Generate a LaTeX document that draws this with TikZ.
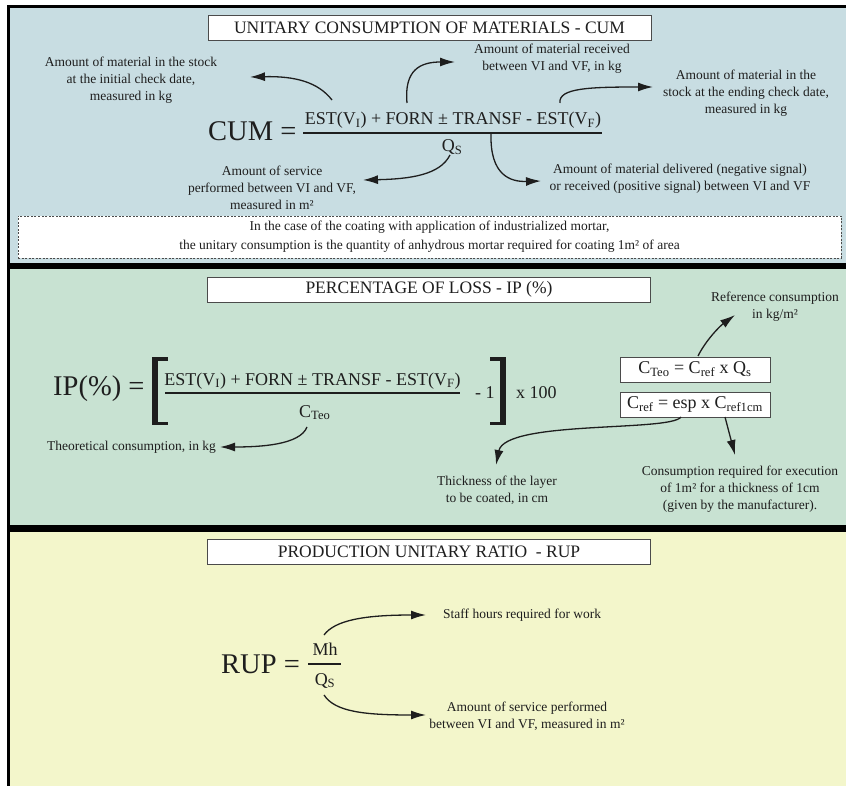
\documentclass[tikz,border=0pt]{standalone}
\usepackage{fontspec}
\setmainfont{Liberation Serif}
\usetikzlibrary{arrows.meta}
\definecolor{pA}{RGB}{200,221,226}
\definecolor{pB}{RGB}{200,226,210}
\definecolor{pC}{RGB}{243,246,203}
\definecolor{ink}{RGB}{30,30,30}
\newcommand\sbs[1]{\textsubscript{#1}}
\begin{document}
\begin{tikzpicture}[x=1pt,y=-1pt,
  lbl/.style={text=ink,font=\fontsize{13.5}{17}\selectfont,align=center,inner sep=0pt},
  ttl/.style={draw=ink!80,fill=white,line width=0.8pt,minimum width=443pt,minimum height=25pt,inner sep=0pt,font=\fontsize{17.5}{20}\selectfont,text=ink},
  frm/.style={text=ink,font=\fontsize{18}{20}\selectfont,inner sep=0pt},
  big/.style={text=ink,font=\fontsize{28.5}{30}\selectfont,inner sep=0pt},
  fbox/.style={draw=ink!80,fill=white,line width=0.8pt,minimum width=150pt,minimum height=25pt,inner sep=0pt,text=ink,font=\fontsize{18}{20}\selectfont},
  arr/.style={draw=ink,line width=1.3pt,-{Latex[length=15pt,width=9pt]}},
  fline/.style={draw=ink,line width=1.4pt},
]
\useasboundingbox (0,0) rectangle (846,786);
\fill[white] (0,0) rectangle (846,786);
\fill[pA] (10,8) rectangle (846,263);
\fill[pB] (10,269) rectangle (846,525);
\fill[pC] (10,532) rectangle (846,786);
\fill[black] (7,5) rectangle (846,8);
\fill[black] (7,5) rectangle (10,786);
\fill[black] (10,263) rectangle (846,269);
\fill[black] (10,525) rectangle (846,532);

% ---------- Panel 1 ----------
\node[ttl] (t1) at (429.5,27.5) {UNITARY CONSUMPTION OF MATERIALS - CUM};
\node[big,anchor=base west] (cum) at (208,141) {CUM =};
\node[frm,anchor=base] (num1) at (453,125) {EST(V\sbs{I}) + FORN ± TRANSF - EST(V\sbs{F})};
\coordinate (f1a) at (303,133);
\coordinate (f1b) at (602,133);
\draw[fline] (f1a) -- (f1b);
\node[frm,anchor=base] (den1) at (452,152) {Q\sbs{S}};

\node[lbl] (l1) at (131,80) {Amount of material in the stock\\at the initial check date,\\measured in kg};
\node[lbl] (l2) at (552,59) {Amount of material received\\between VI and VF, in kg};
\node[lbl] (l3) at (746,93) {Amount of material in the\\stock at the ending check date,\\measured in kg};
\node[lbl] (l4) at (272,188) {Amount of service\\performed between VI and VF,\\measured in m²};
\node[lbl] (l5) at (680,178.5) {Amount of material delivered (negative signal)\\or received (positive signal) between VI and VF};

\coordinate (a1s) at (332,100); \coordinate (a1e) at (250,77);
\coordinate (a2s) at (407,103); \coordinate (a2e) at (455,62);
\coordinate (a3s) at (560,103); \coordinate (a3e) at (653,87);
\coordinate (a4s) at (450,155); \coordinate (a4e) at (363,180);
\coordinate (a5s) at (491,134); \coordinate (a5e) at (541,181);
\draw[arr] (a1s) .. controls (318,82) and (295,76) .. (a1e);
\draw[arr] (a2s) .. controls (404,70) and (420,62) .. (a2e);
\draw[arr] (a3s) .. controls (558,88) and (590,87) .. (a3e);
\draw[arr] (a4s) .. controls (440,175) and (410,179) .. (a4e);
\draw[arr] (a5s) .. controls (490,175) and (510,182) .. (a5e);

\node[draw=ink!80,dashed,dash pattern=on 2pt off 1.5pt,line width=0.6pt,fill=white,minimum width=823pt,minimum height=42pt,inner sep=0pt,text=ink,align=center,font=\fontsize{13.5}{19}\selectfont] (note) at (429.5,237)
  {In the case of the coating with application of industrialized mortar,\\the unitary consumption is the quantity of anhydrous mortar required for coating 1m² of area};

% ---------- Panel 2 ----------
\node[ttl] (t2) at (429,289.5) {PERCENTAGE OF LOSS - IP (\%)};
\node[big,anchor=base west] (ip) at (53,395) {IP(\%) =};
\fill[ink] (152,357) rectangle (158,425);
\fill[ink] (152,357) rectangle (168,360.5);
\fill[ink] (152,421.5) rectangle (168,425);
\fill[ink] (500,357) rectangle (506,425);
\fill[ink] (490,357) rectangle (506,360.5);
\fill[ink] (490,421.5) rectangle (506,425);
\node[frm,anchor=base] (num2) at (312.5,385) {EST(V\sbs{I}) + FORN ± TRANSF - EST(V\sbs{F})};
\coordinate (f2a) at (165,393);
\coordinate (f2b) at (460,393);
\draw[fline] (f2a) -- (f2b);
\node[frm,anchor=base west] (ct) at (299,417) {C\sbs{Teo}};
\node[frm,anchor=base west] (m1) at (475,398) {- 1};
\node[frm,anchor=base west] (x100) at (516,398) {x 100};
\node[lbl,anchor=west] (l6) at (47,447) {Theoretical consumption, in kg};

\node[fbox] (b1) at (695,369.5) {C\sbs{Teo} = C\sbs{ref} x Q\sbs{s}};
\node[fbox] (b2) at (695,404.5) {C\sbs{ref} = esp x C\sbs{ref1cm}};
\node[lbl] (l7) at (775,306.5) {Reference consumption\\in kg/m²};
\node[lbl] (l8) at (497,490) {Thickness of the layer\\to be coated, in cm};
\node[lbl] (l9) at (740,489) {Consumption required for execution\\of 1m² for a thickness of 1cm\\(given by the manufacturer).};

\coordinate (b1s) at (307,427); \coordinate (b1e) at (220,447);
\coordinate (b2s) at (698,356); \coordinate (b2e) at (735,315);
\coordinate (b3s) at (681,417); \coordinate (b3e) at (496,465);
\coordinate (b4s) at (725,417); \coordinate (b4e) at (735,455);
\draw[arr] (b1s) .. controls (300,445) and (260,447) .. (b1e);
\draw[arr] (b2s) .. controls (706,340) and (720,326) .. (b2e);
\draw[arr] (b3s) .. controls (670,432) and (505,420) .. (b3e);
\draw[arr] (b4s) -- (b4e);

% ---------- Panel 3 ----------
\node[ttl] (t3) at (429,551.5) {PRODUCTION UNITARY RATIO\ \ - RUP};
\node[big,anchor=base west] (rup) at (221,673) {RUP =};
\node[frm,anchor=base] (mh) at (325,655) {Mh};
\coordinate (f3a) at (308,664);
\coordinate (f3b) at (341,664);
\draw[fline] (f3a) -- (f3b);
\node[frm,anchor=base] (qs) at (325,685) {Q\sbs{S}};
\node[lbl,anchor=west] (l10) at (443,615) {Staff hours required for work};
\node[lbl] (l11) at (527,716.5) {Amount of service performed\\between VI and VF, measured in m²};

\coordinate (c1s) at (324,635); \coordinate (c1e) at (426,615);
\coordinate (c2s) at (324,695); \coordinate (c2e) at (426,715);
\draw[arr] (c1s) .. controls (335,620) and (365,615) .. (c1e);
\draw[arr] (c2s) .. controls (335,712) and (365,715) .. (c2e);
\end{tikzpicture}
\end{document}
